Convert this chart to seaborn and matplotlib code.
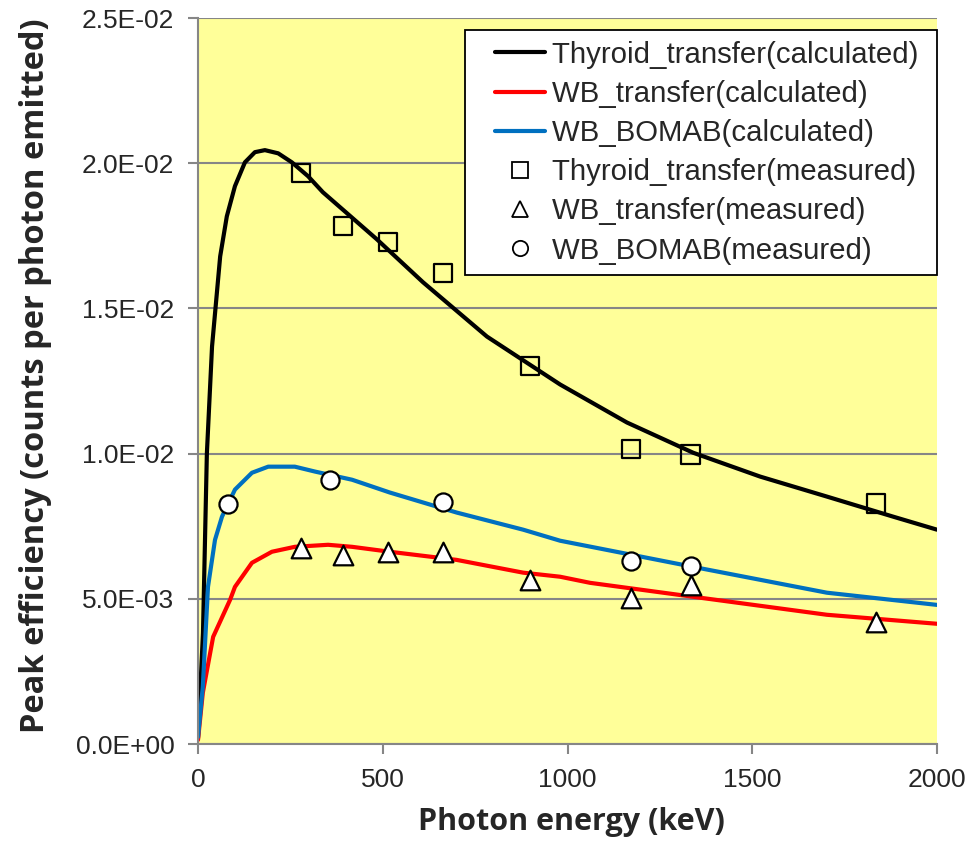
import matplotlib
matplotlib.use("Agg")
import matplotlib.pyplot as plt
import seaborn as sns
from matplotlib.ticker import FuncFormatter, MultipleLocator
from matplotlib.lines import Line2D
from matplotlib.legend_handler import HandlerLine2D

# ---- data ----
thy_calc_E = [0, 13.5, 24, 38, 60, 78, 100, 127, 154, 181, 217, 254, 298, 338, 484, 609, 782, 980,
              1161, 1340, 1521, 1702, 1881, 2000]
thy_calc_y = [0.0002, 0.00383, 0.0100, 0.01369, 0.01679, 0.01817, 0.01921, 0.02003, 0.02038, 0.02045,
              0.02034, 0.02003, 0.01955, 0.0190, 0.01738, 0.0159, 0.01403, 0.01238, 0.01107, 0.01003,
              0.00921, 0.00852, 0.00783, 0.00738]

wbt_calc_E = [0, 13, 41, 87, 100, 146, 200, 262, 352, 417, 519, 700, 880, 980, 1061, 1340, 1702, 2000]
wbt_calc_y = [0.00014, 0.00176, 0.00369, 0.00497, 0.00541, 0.00624, 0.00662, 0.00679, 0.00686, 0.00679,
              0.00662, 0.00634, 0.0059, 0.00576, 0.00555, 0.00507, 0.00445, 0.00414]

bom_calc_E = [0, 13, 27, 46, 65, 100, 146, 190, 262, 317, 417, 519, 700, 880, 980, 1340, 1702, 2000]
bom_calc_y = [0.00024, 0.00197, 0.00541, 0.00703, 0.00783, 0.00876, 0.00934, 0.00955, 0.00955, 0.00938,
              0.0091, 0.00866, 0.00797, 0.00738, 0.0070, 0.0061, 0.00521, 0.00479]

thy_meas_E = [279, 392, 514, 662, 898, 1173, 1333, 1836]
thy_meas_y = [0.01966, 0.01783, 0.01728, 0.01621, 0.01303, 0.01017, 0.00997, 0.00828]

wbt_meas_E = [279, 392, 514, 662, 898, 1173, 1333, 1836]
wbt_meas_y = [0.00676, 0.00652, 0.00662, 0.00662, 0.00566, 0.00503, 0.00548, 0.00421]

bom_meas_E = [81, 356, 662, 1173, 1333]
bom_meas_y = [0.00828, 0.0091, 0.00834, 0.00631, 0.00614]

labels = ["Thyroid_transfer(calculated)", "WB_transfer(calculated)", "WB_BOMAB(calculated)",
          "Thyroid_transfer(measured)", "WB_transfer(measured)", "WB_BOMAB(measured)"]

# ---- plot ----
sns.set_style("white")
plt.rcParams['font.family'] = ['Liberation Sans', 'DejaVu Sans']

fig = plt.figure(figsize=(9.71, 8.44), dpi=100)
ax = fig.add_axes([198/971, 1-744/844, (937-198)/971, (744-18)/844])
ax.set_facecolor("#FFFF99")

lw = 3
sns.lineplot(x=thy_calc_E, y=thy_calc_y, ax=ax, color="black", lw=lw, sort=False)
sns.lineplot(x=wbt_calc_E, y=wbt_calc_y, ax=ax, color="#FF0000", lw=lw, sort=False)
sns.lineplot(x=bom_calc_E, y=bom_calc_y, ax=ax, color="#0070C0", lw=lw, sort=False)

sns.scatterplot(x=thy_meas_E, y=thy_meas_y, ax=ax, marker="s", s=170, facecolor="none",
                edgecolor="black", linewidth=1.6, zorder=5)
sns.scatterplot(x=wbt_meas_E, y=wbt_meas_y, ax=ax, marker="^", s=200, color="white",
                edgecolor="black", linewidth=1.6, zorder=5)
sns.scatterplot(x=bom_meas_E, y=bom_meas_y, ax=ax, marker="o", s=170, color="white",
                edgecolor="black", linewidth=1.6, zorder=5)

ax.set_xlim(0, 2000)
ax.set_ylim(0, 0.025)
ax.xaxis.set_major_locator(MultipleLocator(500))
ax.yaxis.set_major_locator(MultipleLocator(0.005))
ax.yaxis.set_major_formatter(FuncFormatter(lambda v, p: f"{v:.1E}"))
ax.grid(axis="y", color="#868686", lw=1.5)
ax.grid(axis="x", visible=False)
ax.set_axisbelow(True)

for s in ["top", "right"]:
    ax.spines[s].set_visible(False)
for s in ["left", "bottom"]:
    ax.spines[s].set_color("#868686")
    ax.spines[s].set_linewidth(1.5)
ax.tick_params(axis="both", which="major", direction="out", length=7, width=1.5,
               color="#868686", labelsize=19, left=True, bottom=True, pad=10)

ax.set_xlabel("Photon energy (keV)", fontsize=22, fontweight="bold", family=["Open Sans", "DejaVu Sans"])
ax.set_ylabel("Peak efficiency (counts per photon emitted)", fontsize=23.5, fontweight="bold",
              family=["Open Sans", "DejaVu Sans"])
ax.xaxis.set_label_coords(0.506, -0.087)
ax.yaxis.set_label_coords(-0.198, 0.507)

handles = [
    Line2D([], [], color="black", lw=lw),
    Line2D([], [], color="#FF0000", lw=lw),
    Line2D([], [], color="#0070C0", lw=lw),
    Line2D([], [], marker="s", ls="none", mfc="none", mec="black", ms=11, mew=1.3),
    Line2D([], [], marker="^", ls="none", mfc="white", mec="black", ms=11, mew=1.3),
    Line2D([], [], marker="o", ls="none", mfc="white", mec="black", ms=11, mew=1.3),
]
hm = {h: HandlerLine2D(xpad=0.65) for h in handles}
leg = ax.legend(handles, [l + " " for l in labels], handler_map=hm, loc="upper right",
                bbox_to_anchor=(1.0, 0.983), fontsize=21.2,
                frameon=True, fancybox=False, framealpha=1, edgecolor="black",
                handlelength=2.35, handletextpad=0.25, labelspacing=0.38, borderpad=0.35,
                borderaxespad=0)
leg.get_frame().set_linewidth(1.3)

fig.savefig("out.png", dpi=100, facecolor="white")
